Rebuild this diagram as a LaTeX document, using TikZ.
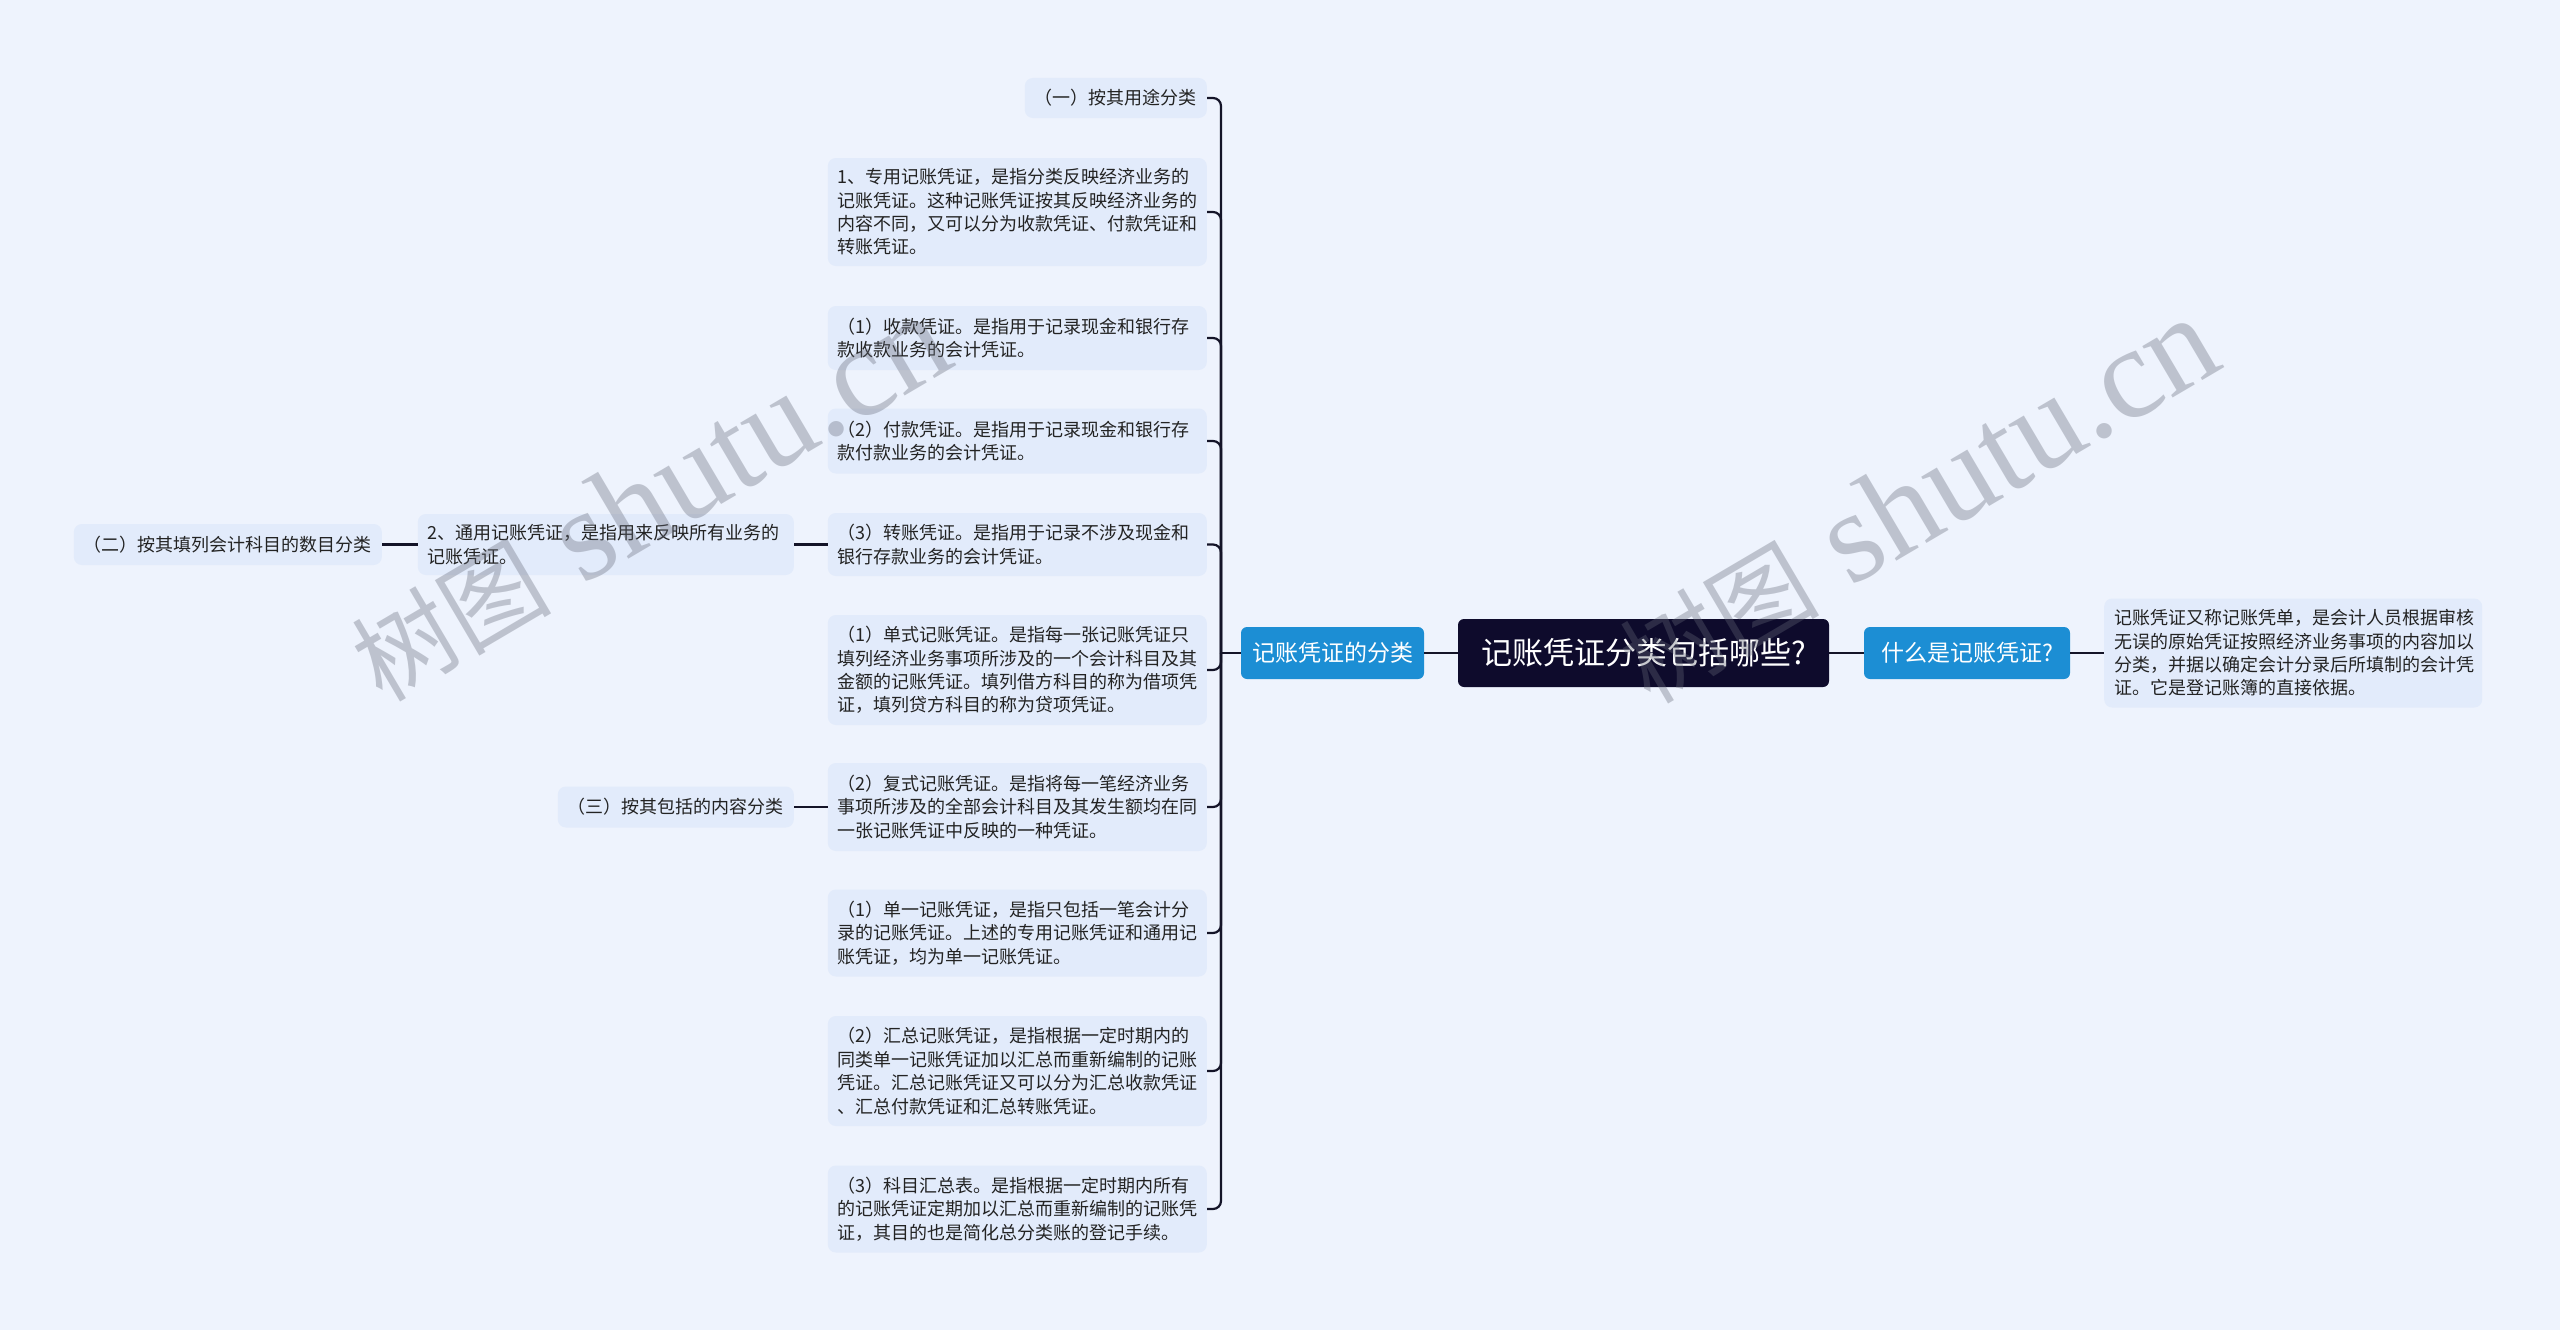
\documentclass[tikz,border=0pt]{standalone}
\usepackage{fontspec}
\setmainfont{Noto Sans CJK SC}
\newfontfamily\wmcjk{Noto Sans CJK SC}
\newfontfamily\wmlat{Liberation Serif}
\definecolor{bgc}{RGB}{238,243,253}
\definecolor{leaffill}{RGB}{226,235,251}
\definecolor{bluec}{RGB}{28,142,212}
\definecolor{rootc}{RGB}{14,11,44}
\definecolor{linec}{RGB}{20,20,40}
\definecolor{txtc}{RGB}{35,35,35}
\definecolor{wmc}{RGB}{100,105,120}
\tikzset{
  leafbox/.style={fill=leaffill, rounded corners=8pt, inner xsep=10pt, inner ysep=6pt,
    text=txtc, font=\fontsize{18}{23.4}\selectfont, align=left},
  widebox/.style={leafbox, text width=359pt},
  rootbox/.style={fill=rootc, text=white, rounded corners=6pt, minimum width=371pt,
    minimum height=68pt, font=\fontsize{31}{36}\selectfont},
  bluebox/.style={fill=bluec, text=white, rounded corners=6pt, minimum height=52pt,
    font=\fontsize{23}{28}\selectfont},
  conn/.style={draw=linec, line width=2.2pt},
  wmark/.style={text=wmc, text opacity=0.35, inner sep=0pt}
}
\newcommand{\wmtext}{{\wmcjk\fontsize{100}{110}\selectfont 树图}{\wmlat\fontsize{130}{140}\selectfont\ shutu.cn}}
\begin{document}
\begin{tikzpicture}[x=1pt,y=-1pt]
\fill[bgc] (0,0) rectangle (2560,1330);
\useasboundingbox (0,0) rectangle (2560,1330);

% center
\node[rootbox] (root) at (1643.5,653) {记账凭证分类包括哪些?};
\node[bluebox, minimum width=183pt] (lb) at (1332.5,653) {记账凭证的分类};
\node[bluebox, minimum width=206pt] (rb) at (1967,653) {什么是记账凭证?};
\node[widebox, text width=358pt, minimum height=109pt, anchor=west] (rleaf) at (2104,653)
  {记账凭证又称记账凭单，是会计人员根据审核\\无误的原始凭证按照经济业务事项的内容加以\\分类，并据以确定会计分录后所填制的会计凭\\证。它是登记账簿的直接依据。};

% right column (children of lb)
\node[leafbox, minimum height=40pt, anchor=east] (c1) at (1207,98) {（一）按其用途分类};
\node[widebox, minimum height=108pt, anchor=east] (c2) at (1207,212)
  {1、专用记账凭证，是指分类反映经济业务的\\记账凭证。这种记账凭证按其反映经济业务的\\内容不同，又可以分为收款凭证、付款凭证和\\转账凭证。};
\node[widebox, minimum height=64pt, anchor=east] (c3) at (1207,338)
  {（1）收款凭证。是指用于记录现金和银行存\\款收款业务的会计凭证。};
\node[widebox, minimum height=65pt, anchor=east] (c4) at (1207,441)
  {（2）付款凭证。是指用于记录现金和银行存\\款付款业务的会计凭证。};
\node[widebox, minimum height=63pt, anchor=east] (c5) at (1207,544.5)
  {（3）转账凭证。是指用于记录不涉及现金和\\银行存款业务的会计凭证。};
\node[widebox, minimum height=110pt, anchor=east] (c6) at (1207,670)
  {（1）单式记账凭证。是指每一张记账凭证只\\填列经济业务事项所涉及的一个会计科目及其\\金额的记账凭证。填列借方科目的称为借项凭\\证，填列贷方科目的称为贷项凭证。};
\node[widebox, minimum height=88pt, anchor=east] (c7) at (1207,807)
  {（2）复式记账凭证。是指将每一笔经济业务\\事项所涉及的全部会计科目及其发生额均在同\\一张记账凭证中反映的一种凭证。};
\node[widebox, minimum height=87pt, anchor=east] (c8) at (1207,933)
  {（1）单一记账凭证，是指只包括一笔会计分\\录的记账凭证。上述的专用记账凭证和通用记\\账凭证，均为单一记账凭证。};
\node[widebox, minimum height=110pt, anchor=east] (c9) at (1207,1071)
  {（2）汇总记账凭证，是指根据一定时期内的\\同类单一记账凭证加以汇总而重新编制的记账\\凭证。汇总记账凭证又可以分为汇总收款凭证\\、汇总付款凭证和汇总转账凭证。};
\node[widebox, minimum height=87pt, anchor=east] (c10) at (1207,1209)
  {（3）科目汇总表。是指根据一定时期内所有\\的记账凭证定期加以汇总而重新编制的记账凭\\证，其目的也是简化总分类账的登记手续。};

% left nodes
\node[widebox, text width=356pt, minimum height=61pt, anchor=east] (l1) at (794,544.5)
  {2、通用记账凭证，是指用来反映所有业务的\\记账凭证。};
\node[leafbox, minimum height=41pt, anchor=east] (l2) at (382,544.5) {（二）按其填列会计科目的数目分类};
\node[leafbox, minimum height=41pt, anchor=east] (l3) at (794,807) {（三）按其包括的内容分类};

% connectors
\coordinate (bus) at (1221,653);
\draw[conn] (root.west) -- (lb.east);
\draw[conn] (root.east) -- (rb.west);
\draw[conn] (rb.east) -- (rleaf.west);
\draw[conn] (lb.west) -- (bus);
\foreach \c in {c1,c2,c3,c4,c5,c6,c7,c8,c9,c10}
  \draw[conn, rounded corners=8pt] (bus) |- (\c.east);
\draw[conn] (l1.east) -- (l1.east -| c5.west);
\draw[conn] (l2.east) -- (l2.east -| l1.west);
\draw[conn] (l3.east) -- (l3.east -| c7.west);

% watermarks
\node[wmark, rotate=30.5, anchor=base west] (wm1) at (382,704) {\wmtext};
\node[wmark, rotate=30.5, anchor=base west] (wm2) at (1650,706) {\wmtext};
\end{tikzpicture}
\end{document}
